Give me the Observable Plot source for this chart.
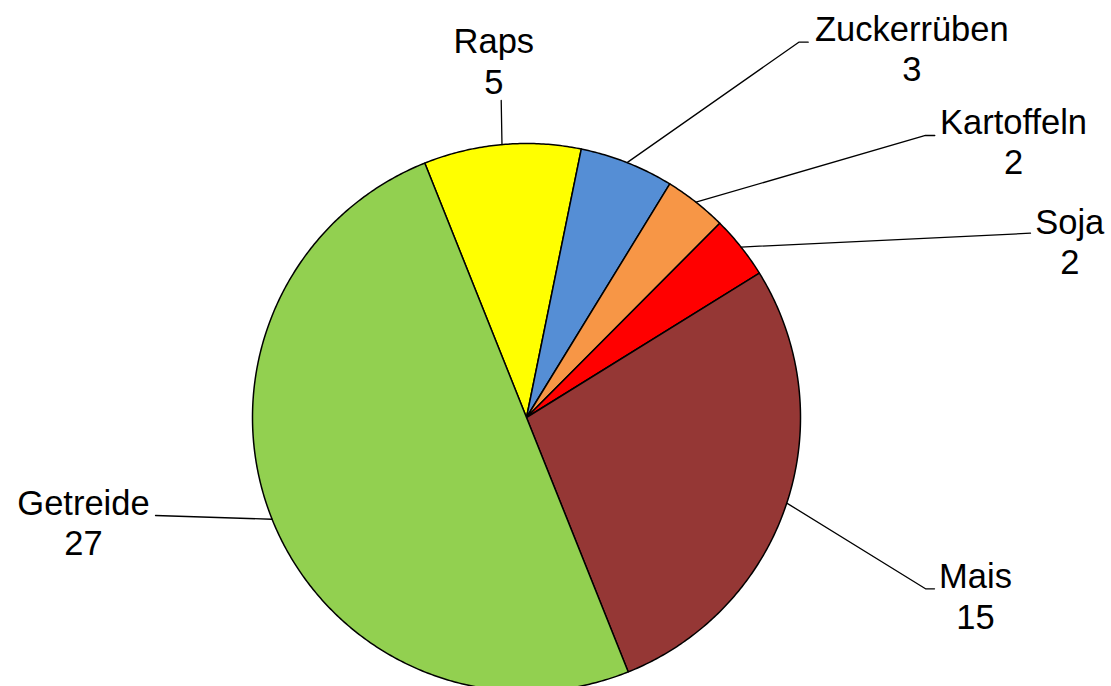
<!DOCTYPE html>
<html>
<head>
<meta charset="utf-8">
<script src="https://cdn.jsdelivr.net/npm/d3@7"></script>
<script src="https://cdn.jsdelivr.net/npm/@observablehq/plot@0.6"></script>
<style>
  html, body { margin: 0; padding: 0; background: #ffffff; overflow: hidden; }
  #chart svg { display: block; }
</style>
</head>
<body>
<div id="chart"></div>
<script>
// ---- data ----
const categories = ["Raps", "Zuckerrüben", "Kartoffeln", "Soja", "Mais", "Getreide"];
const values = [5, 3, 2, 2, 15, 27];
const sliceColors = ["#FFFF00", "#558ED5", "#F79646", "#FF0000", "#953735", "#92D050"];

// ---- layout (label placement, in radius units relative to the pie centre) ----
const startAngleDeg = -21.8;
const leaderEnds = [
  [[-0.0923, 1.1569]],
  [[0.9938, 1.3697], [1.0281, 1.3697]],
  [[1.4562, 1.0292], [1.4901, 1.0292]],
  [[1.8394, 0.6726]],
  [[1.4562, -0.6252], [1.4891, -0.6252]],
  [[-1.3540, -0.3577]]
];
const labelPos = [
  [-0.1193, 1.1814],
  [1.4062, 1.2263],
  [1.7774, 0.8869],
  [1.9828, 0.5219],
  [1.6387, -0.7712],
  [-1.6168, -0.5036]
];

// ---- build geometry from the data ----
const W = 1111, H = 686;
const a0 = startAngleDeg * Math.PI / 180;
const arcs = d3.pie().sort(null).value(d => d).startAngle(a0).endAngle(a0 + 2 * Math.PI)(values);

const slicePts = [];
arcs.forEach((a, i) => {
  const name = categories[i];
  slicePts.push({name, x: 0, y: 0});
  const steps = Math.max(8, Math.ceil((a.endAngle - a.startAngle) / (Math.PI / 360)));
  for (let k = 0; k <= steps; k++) {
    const t = a.startAngle + (a.endAngle - a.startAngle) * k / steps;
    slicePts.push({name, x: Math.sin(t), y: Math.cos(t)});
  }
  slicePts.push({name, x: 0, y: 0});
});

const leaderPts = [];
arcs.forEach((a, i) => {
  const m = (a.startAngle + a.endAngle) / 2;
  leaderPts.push({name: categories[i], x: Math.sin(m), y: Math.cos(m)});
  leaderEnds[i].forEach(p => leaderPts.push({name: categories[i], x: p[0], y: p[1]}));
});

const labels = categories.map((c, i) => ({
  text: c + "\n" + values[i],
  x: labelPos[i][0],
  y: labelPos[i][1]
}));

// centre at (526, 417) px, radius 274 px
const R = 274, CX = 526, CY = 417;

const chart = Plot.plot({
  width: W,
  height: H,
  margin: 0,
  x: {domain: [-CX / R, (W - CX) / R], range: [0, W], axis: null},
  y: {domain: [(CY - H) / R, CY / R], range: [H, 0], axis: null},
  color: {domain: categories, range: sliceColors},
  style: {fontFamily: "'Liberation Sans', Arial, sans-serif", background: "#ffffff", overflow: "visible"},
  marks: [
    Plot.line(slicePts, {x: "x", y: "y", z: "name", fill: "name", stroke: "#000000", strokeWidth: 1.5, strokeLinejoin: "round", curve: "linear"}),
    Plot.line(leaderPts, {x: "x", y: "y", z: "name", stroke: "#000000", strokeWidth: 1.3, curve: "linear"}),
    Plot.text(labels, {x: "x", y: "y", text: "text", fontSize: 34.5, lineHeight: 1.175, lineAnchor: "bottom", textAnchor: "middle", fill: "#000000"})
  ]
});
document.getElementById("chart").appendChild(chart);
</script>
</body>
</html>
